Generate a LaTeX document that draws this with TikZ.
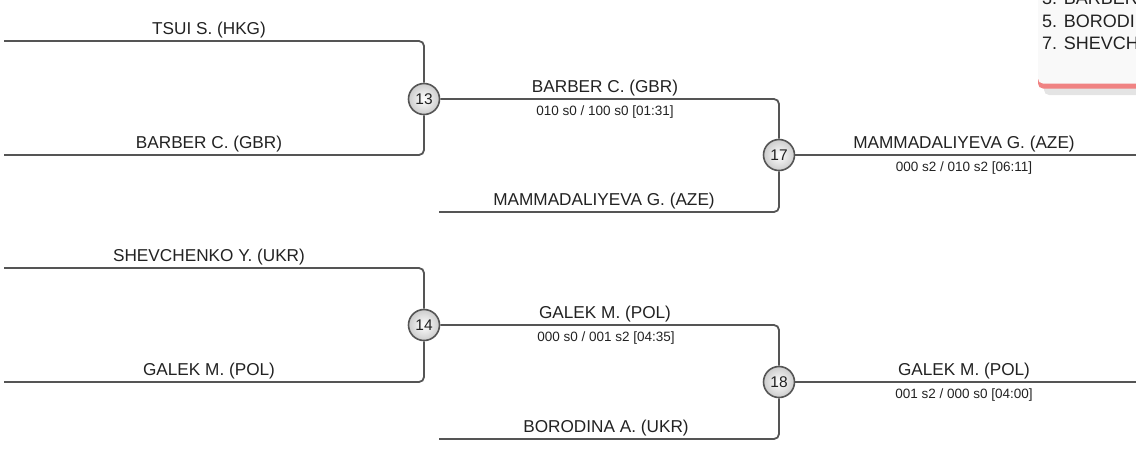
\documentclass[tikz,border=0pt]{standalone}
\usepackage{fontspec}
\setmainfont{Liberation Sans}
\definecolor{linec}{HTML}{555555}
\definecolor{txtc}{HTML}{222222}
\definecolor{panelc}{HTML}{F9F9F9}
\definecolor{redc}{HTML}{F08383}
\definecolor{shadowc}{HTML}{E4E4E4}
\begin{document}
\begin{tikzpicture}[x=1pt,y=-1pt,
  bline/.style={draw=linec, line width=1.8pt, rounded corners=5pt},
  match/.style={circle, draw=linec, line width=1.6pt, minimum size=31pt, inner sep=0pt,
    inner color=white, outer color=gray!40, text=txtc, font=\fontsize{15.5}{15.5}\selectfont},
  pname/.style={anchor=base, inner sep=0pt, text=txtc, font=\fontsize{17.2}{19}\selectfont},
  pscore/.style={anchor=base, inner sep=0pt, text=txtc, font=\fontsize{13.5}{15}\selectfont},
  ptext/.style={anchor=base west, inner sep=0pt, text=txtc, font=\fontsize{18}{20}\selectfont}]
\useasboundingbox (0,0) rectangle (1136,451);

% standings panel (cut at the top right)
\begin{scope}
\clip (0,0) rectangle (1136,451);
\fill[shadowc, rounded corners=5pt] (1044,70) rectangle (1150,95);
\fill[redc, rounded corners=5pt] (1038,60) rectangle (1150,88.5);
\fill[panelc, rounded corners=5pt] (1038,-20) rectangle (1150,83.5);
\node[ptext] (s3) at (1042,4) {3. BARBER C. (GBR)};
\node[ptext] (s5) at (1042,27) {5. BORODINA A. (UKR)};
\node[ptext] (s7) at (1042,49) {7. SHEVCHENKO Y. (UKR)};
\end{scope}

% match nodes
\node[match] (m13) at (424,99) {13};
\node[match] (m14) at (424,325) {14};
\node[match] (m17) at (779,155) {17};
\node[match] (m18) at (779,382) {18};

% free ends
\coordinate (a1) at (4,41);
\coordinate (a2) at (4,155);
\coordinate (a3) at (4,268);
\coordinate (a4) at (4,382);
\coordinate (b1) at (439,212);
\coordinate (b2) at (439,439);
\coordinate (e17) at (1140,155);
\coordinate (e18) at (1140,382);

% connectors
\draw[bline] (a1) -| (m13);
\draw[bline] (a2) -| (m13);
\draw[bline] (a3) -| (m14);
\draw[bline] (a4) -| (m14);
\draw[bline] (m13) -| (m17);
\draw[bline] (b1) -| (m17);
\draw[bline] (m14) -| (m18);
\draw[bline] (b2) -| (m18);
\draw[bline] (m17) -- (e17);
\draw[bline] (m18) -- (e18);

% labels, round 1
\node[pname] (l1) at (209,34.5) {TSUI S. (HKG)};
\node[pname] (l2) at (209,148) {BARBER C. (GBR)};
\node[pname] (l3) at (209,261.5) {SHEVCHENKO Y. (UKR)};
\node[pname] (l4) at (209,375.5) {GALEK M. (POL)};

% labels, round 2
\node[pname] (w13) at (605,92.5) {BARBER C. (GBR)};
\node[pscore] (r13) at (605,115.5) {010 s0 / 100 s0 [01:31]};
\node[pname] (l5) at (604,205.5) {MAMMADALIYEVA G. (AZE)};
\node[pname] (w14) at (605,318.5) {GALEK M. (POL)};
\node[pscore] (r14) at (606,341.5) {000 s0 / 001 s2 [04:35]};
\node[pname] (l6) at (606,432.5) {BORODINA A. (UKR)};

% labels, round 3
\node[pname] (w17) at (964,148.5) {MAMMADALIYEVA G. (AZE)};
\node[pscore] (r17) at (964,171.5) {000 s2 / 010 s2 [06:11]};
\node[pname] (w18) at (964,375.5) {GALEK M. (POL)};
\node[pscore] (r18) at (964,398.5) {001 s2 / 000 s0 [04:00]};
\end{tikzpicture}
\end{document}
